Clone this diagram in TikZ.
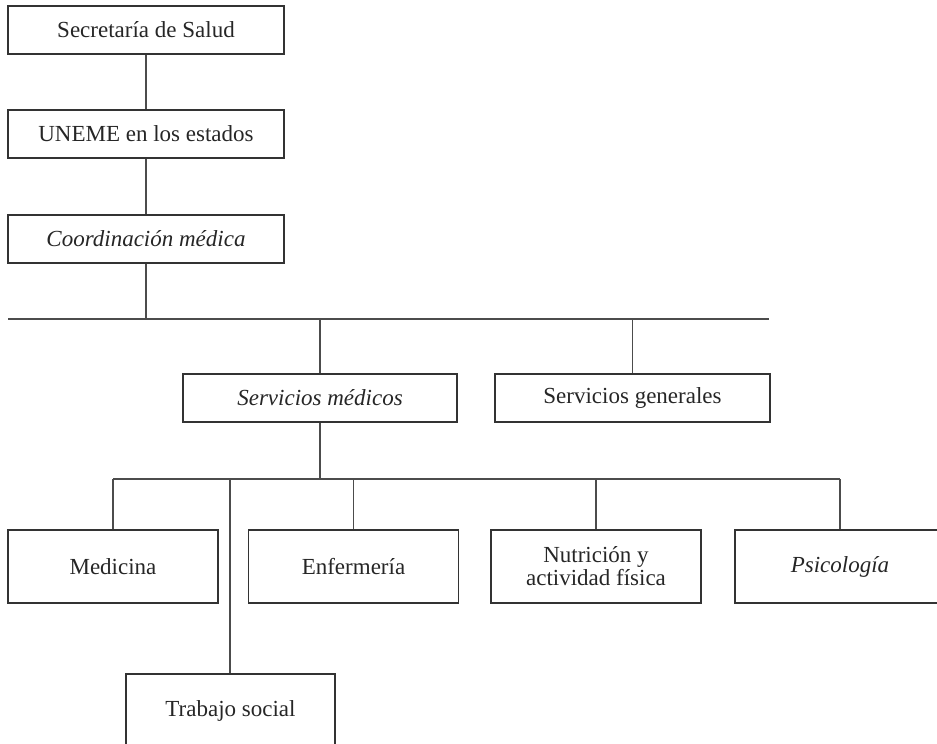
\documentclass[tikz,border=0pt]{standalone}
\usepackage{fontspec}
\setmainfont{Liberation Serif}
\begin{document}
\begin{tikzpicture}[x=1pt,y=-1pt,
  box/.style={draw=black!80,line width=1.1pt,inner sep=2pt,align=center,
    font=\fontsize{23}{25}\selectfont,text=black!85},
  wide/.style={box,minimum width=276pt,minimum height=48pt},
  unit/.style={box,minimum width=210pt,minimum height=73pt},
  link/.style={draw=black!70,line width=1.1pt}]
\useasboundingbox (0,0) rectangle (937,744);
% top chain
\node[wide] (sec)   at (146,30)  {Secretaría de Salud};
\node[wide] (uneme) at (146,134) {UNEME en los estados};
\node[wide] (coord) at (146,239) {\itshape Coordinación médica};
% second level
\node[wide,minimum width=274pt] (smed) at (320,398) {\itshape Servicios médicos};
\node[wide,minimum width=275pt] (sgen) at (632.5,398) {Servicios generales};
% units
\node[unit] (med)  at (113,566.5)   {Medicina};
\node[unit] (enf)  at (353.5,566.5) {Enfermería};
\node[unit] (nut)  at (596,566.5)   {Nutrición y\\[-2pt]actividad física};
\node[unit] (psi)  at (840,566.5)   {\itshape Psicología};
\node[unit,minimum width=209pt] (trab) at (230.5,710.5) {Trabajo social};
% bus lines
\coordinate (b1L) at (8,319);
\coordinate (b1R) at (769,319);
\coordinate (b2)  at (0,479);
\coordinate (b2t) at (230,479);
\path[link] (sec.south) -- (uneme.north);
\path[link] (uneme.south) -- (coord.north);
\path[link] (coord.south) -- (coord.south |- b1L);
\path[link] (b1L) -- (b1R);
\path[link] (smed.north) -- (smed.north |- b1L);
\path[link] (sgen.north) -- (sgen.north |- b1L);
\path[link] (smed.south) -- (smed.south |- b2);
\path[link] (med.north |- b2) -- (psi.north |- b2);
\path[link] (med.north) -- (med.north |- b2);
\path[link] (enf.north) -- (enf.north |- b2);
\path[link] (nut.north) -- (nut.north |- b2);
\path[link] (psi.north) -- (psi.north |- b2);
\path[link] (trab.north -| b2t) -- (b2t);
\end{tikzpicture}
\end{document}
